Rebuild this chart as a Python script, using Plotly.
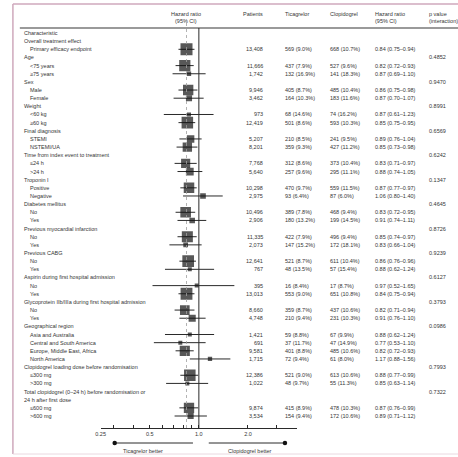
import math
import plotly.graph_objects as go

W, H = 458, 457

# ---- table rows (None = heading row) ----
labels = [
    "Characteristic", "Overall treatment effect", "Primary efficacy endpoint",
    "Age", "<75 years", "\u226575 years",
    "Sex", "Male", "Female",
    "Weight", "<60 kg", "\u226560 kg",
    "Final diagnosis", "STEMI", "NSTEMI/UA",
    "Time from index event to treatment", "\u226424 h", ">24 h",
    "Troponin I", "Positive", "Negative",
    "Diabetes mellitus", "No", "Yes",
    "Previous myocardial infarction", "No", "Yes",
    "Previous CABG", "No", "Yes",
    "Aspirin during first hospital admission", "No", "Yes",
    "Glycoprotein IIb/IIIa during first hospital admission", "No", "Yes",
    "Geographical region", "Asia and Australia", "Central and South America",
    "Europe, Middle East, Africa", "North America",
    "Clopidogrel loading dose before randomisation", "\u2264300 mg", ">300 mg",
    "Total clopidogrel (0\u201324 h) before randomisation or", "24 h after first dose",
    "\u2264600 mg", ">600 mg",
]
is_heading = [
    1, 1, 0,
    1, 0, 0,
    1, 0, 0,
    1, 0, 0,
    1, 0, 0,
    1, 0, 0,
    1, 0, 0,
    1, 0, 0,
    1, 0, 0,
    1, 0, 0,
    1, 0, 0,
    1, 0, 0,
    1, 0, 0, 0, 0,
    1, 0, 0,
    1, 1, 0, 0,
]
patients = [
    None, None, 13408,
    None, 11666, 1742,
    None, 9946, 3462,
    None, 973, 12419,
    None, 5207, 8201,
    None, 7768, 5640,
    None, 10298, 2975,
    None, 10496, 2906,
    None, 11335, 2073,
    None, 12641, 767,
    None, 395, 13013,
    None, 8660, 4748,
    None, 1421, 691, 9581, 1715,
    None, 12386, 1022,
    None, None, 9874, 3534,
]
ticagrelor = [
    "", "", "569 (9.0%)",
    "", "437 (7.9%)", "132 (16.9%)",
    "", "405 (8.7%)", "164 (10.3%)",
    "", "68 (14.6%)", "501 (8.6%)",
    "", "210 (8.5%)", "359 (9.3%)",
    "", "312 (8.6%)", "257 (9.6%)",
    "", "470 (9.7%)", "93 (6.4%)",
    "", "389 (7.8%)", "180 (13.2%)",
    "", "422 (7.9%)", "147 (15.2%)",
    "", "521 (8.7%)", "48 (13.5%)",
    "", "16 (8.4%)", "553 (9.0%)",
    "", "359 (8.7%)", "210 (9.4%)",
    "", "59 (8.8%)", "37 (11.7%)", "401 (8.8%)", "72 (9.4%)",
    "", "521 (9.0%)", "48 (9.7%)",
    "", "", "415 (8.9%)", "154 (9.4%)",
]
clopidogrel = [
    "", "", "668 (10.7%)",
    "", "527 (9.6%)", "141 (18.3%)",
    "", "485 (10.4%)", "183 (11.6%)",
    "", "74 (16.2%)", "593 (10.3%)",
    "", "241 (9.5%)", "427 (11.2%)",
    "", "373 (10.4%)", "295 (11.1%)",
    "", "559 (11.5%)", "87 (6.0%)",
    "", "468 (9.4%)", "199 (14.5%)",
    "", "496 (9.4%)", "172 (18.1%)",
    "", "611 (10.4%)", "57 (15.4%)",
    "", "17 (8.7%)", "651 (10.8%)",
    "", "437 (10.6%)", "231 (10.3%)",
    "", "67 (9.9%)", "47 (14.9%)", "485 (10.6%)", "61 (8.0%)",
    "", "613 (10.6%)", "55 (11.3%)",
    "", "", "478 (10.3%)", "172 (10.6%)",
]
hr = [
    None, None, 0.84,
    None, 0.82, 0.87,
    None, 0.86, 0.87,
    None, 0.87, 0.85,
    None, 0.89, 0.85,
    None, 0.83, 0.88,
    None, 0.87, 1.06,
    None, 0.83, 0.91,
    None, 0.85, 0.83,
    None, 0.86, 0.88,
    None, 0.97, 0.84,
    None, 0.82, 0.91,
    None, 0.88, 0.77, 0.82, 1.17,
    None, 0.88, 0.85,
    None, None, 0.87, 0.89,
]
ci_low = [
    None, None, 0.75,
    None, 0.72, 0.69,
    None, 0.75, 0.70,
    None, 0.61, 0.75,
    None, 0.76, 0.73,
    None, 0.71, 0.74,
    None, 0.77, 0.80,
    None, 0.72, 0.74,
    None, 0.74, 0.66,
    None, 0.76, 0.62,
    None, 0.52, 0.75,
    None, 0.71, 0.76,
    None, 0.62, 0.53, 0.72, 0.88,
    None, 0.77, 0.63,
    None, None, 0.76, 0.71,
]
ci_high = [
    None, None, 0.94,
    None, 0.93, 1.10,
    None, 0.98, 1.07,
    None, 1.23, 0.95,
    None, 1.04, 0.98,
    None, 0.97, 1.05,
    None, 0.97, 1.40,
    None, 0.95, 1.11,
    None, 0.97, 1.04,
    None, 0.96, 1.24,
    None, 1.65, 0.94,
    None, 0.94, 1.10,
    None, 1.24, 1.10, 0.93, 1.56,
    None, 0.99, 1.14,
    None, None, 0.99, 1.12,
]
p_interaction = [
    "", "", "",
    "0.4852", "", "",
    "0.9470", "", "",
    "0.8991", "", "",
    "0.6569", "", "",
    "0.6242", "", "",
    "0.1347", "", "",
    "0.4645", "", "",
    "0.8726", "", "",
    "0.9239", "", "",
    "0.6127", "", "",
    "0.3793", "", "",
    "0.0986", "", "", "", "",
    "0.7993", "", "",
    "0.7322", "", "", "",
]

overall_hr = 0.84
axis_ticks = [0.25, 0.3, 0.4, 0.5, 0.6, 0.7, 0.8, 0.9, 1.0, 2.0, 3.0, 4.0]
axis_labels = {0.25: "0.25", 0.5: "0.5", 1.0: "1.0", 2.0: "2.0"}

# ---- geometry helpers ----
ROW0, ROWH = 33.0, 8.149          # pixel centre of first row, row pitch
n_rows = len(labels)


def px_to_row(py):
    return (py - ROW0) / ROWH


def px(xp):
    return xp / W


def py(yp):
    return 1 - yp / H


FONT = "Liberation Sans, Arial, sans-serif"
FS = 5.5
TXT = "#353535"

fig = go.Figure()

# confidence intervals
cx, cy = [], []
for i, (l, h) in enumerate(zip(ci_low, ci_high)):
    if l is None:
        continue
    cx += [l, h, None]
    cy += [i, i, None]
fig.add_trace(go.Scatter(x=cx, y=cy, mode="lines",
                         line=dict(color="#2a2a2a", width=1),
                         hoverinfo="skip", showlegend=False))

# point estimates, square area proportional to patients
N = patients[2]
mx, my, ms = [], [], []
for i, v in enumerate(hr):
    if v is None:
        continue
    mx.append(v)
    my.append(i)
    ms.append(max(4.0, 12.0 * math.sqrt(patients[i] / N)))
fig.add_trace(go.Scatter(x=mx, y=my, mode="markers",
                         marker=dict(symbol="square", size=ms, color="#111111",
                                     line=dict(width=0)),
                         hoverinfo="skip", showlegend=False))

# direction arrows below the axis
arrow_y = px_to_row(443)
left_arrow = [0.92, 0.305]
right_arrow = [1.15, 3.37]
for seg in (left_arrow, right_arrow):
    fig.add_trace(go.Scatter(x=seg, y=[arrow_y, arrow_y], mode="lines",
                             line=dict(color="#2a2a2a", width=1),
                             hoverinfo="skip", showlegend=False, cliponaxis=False))
fig.add_trace(go.Scatter(x=[left_arrow[1], right_arrow[1]], y=[arrow_y, arrow_y],
                         mode="markers", marker=dict(size=4.5, color="#111111"),
                         hoverinfo="skip", showlegend=False, cliponaxis=False))

shapes = [
    # frame
    dict(type="line", xref="paper", yref="paper", x0=px(8), x1=px(8), y0=py(4), y1=py(454),
         line=dict(color="#cfa9bc", width=1.5)),
    dict(type="line", xref="paper", yref="paper", x0=px(8), x1=1, y0=py(4), y1=py(4),
         line=dict(color="#cfa9bc", width=1.5)),
    dict(type="line", xref="paper", yref="paper", x0=px(8), x1=1, y0=py(454), y1=py(454),
         line=dict(color="#ead8e0", width=1)),
    # header rule
    dict(type="line", xref="paper", yref="paper", x0=px(15), x1=1, y0=py(28), y1=py(28),
         line=dict(color="#9a9a9a", width=2)),
    # line of no effect
    dict(type="line", xref="x", yref="paper", x0=1.0, x1=1.0, y0=py(28), y1=py(428),
         line=dict(color="#2a2a2a", width=1)),
    # overall effect reference
    dict(type="line", xref="x", yref="paper", x0=overall_hr, x1=overall_hr,
         y0=py(23), y1=py(428), line=dict(color="#a0a0a0", width=0.8, dash="dot")),
]

ann = []


def add_text(x, y, text, xanchor="left", yref="y", size=FS):
    ann.append(dict(x=x, y=y, xref="paper", yref=yref, text=text, showarrow=False,
                    xanchor=xanchor, yanchor="middle",
                    font=dict(family=FONT, size=size, color=TXT)))


# column headings
add_text(px(183), py(14), "Hazard ratio", "center", "paper")
add_text(px(183), py(21), "(95% CI)", "center", "paper")
add_text(px(263), py(14), "Patients", "right", "paper")
add_text(px(281), py(14), "Ticagrelor", "left", "paper")
add_text(px(327), py(14), "Clopidogrel", "left", "paper")
add_text(px(372), py(14), "Hazard ratio", "left", "paper")
add_text(px(372), py(21), "(95% CI)", "left", "paper")
add_text(px(427), py(14), "p value", "left", "paper")
add_text(px(427), py(21), "(interaction)", "left", "paper")

for i in range(n_rows):
    add_text(px(17 if is_heading[i] else 23), i, labels[i])
    if patients[i] is not None:
        add_text(px(263), i, f"{patients[i]:,}", "right")
        add_text(px(281), i, ticagrelor[i])
        add_text(px(327), i, clopidogrel[i])
        add_text(px(372), i, f"{hr[i]:.2f} ({ci_low[i]:.2f}\u2013{ci_high[i]:.2f})")
    if p_interaction[i]:
        add_text(px(427), i, p_interaction[i])

add_text(px(140), py(451), "Ticagrelor better", "center", "paper")
add_text(px(248), py(451), "Clopidogrel better", "center", "paper")

x_lo, x_hi = 0.25, 4.0
k = 165.0  # pixels per decade
x0_px = 196 + k * math.log10(x_lo)
x1_px = 196 + k * math.log10(x_hi)

fig.update_layout(
    width=W, height=H, margin=dict(l=0, r=0, t=0, b=0),
    paper_bgcolor="white", plot_bgcolor="rgba(0,0,0,0)",
    shapes=shapes, annotations=ann,
    xaxis=dict(type="log", domain=[x0_px / W, x1_px / W],
               range=[math.log10(x_lo), math.log10(x_hi)],
               anchor="free", position=py(428),
               showgrid=False, zeroline=False, showline=True,
               linecolor="#2a2a2a", linewidth=1,
               ticks="inside", ticklen=3, tickwidth=1, tickcolor="#2a2a2a",
               tickvals=axis_ticks,
               ticktext=[axis_labels.get(t, "") for t in axis_ticks],
               tickfont=dict(family=FONT, size=FS, color=TXT)),
    yaxis=dict(domain=[0, 1], range=[px_to_row(H), px_to_row(0)],
               visible=False, showgrid=False, zeroline=False),
    font=dict(family=FONT, size=FS, color=TXT),
)

fig.write_html("out.html")
